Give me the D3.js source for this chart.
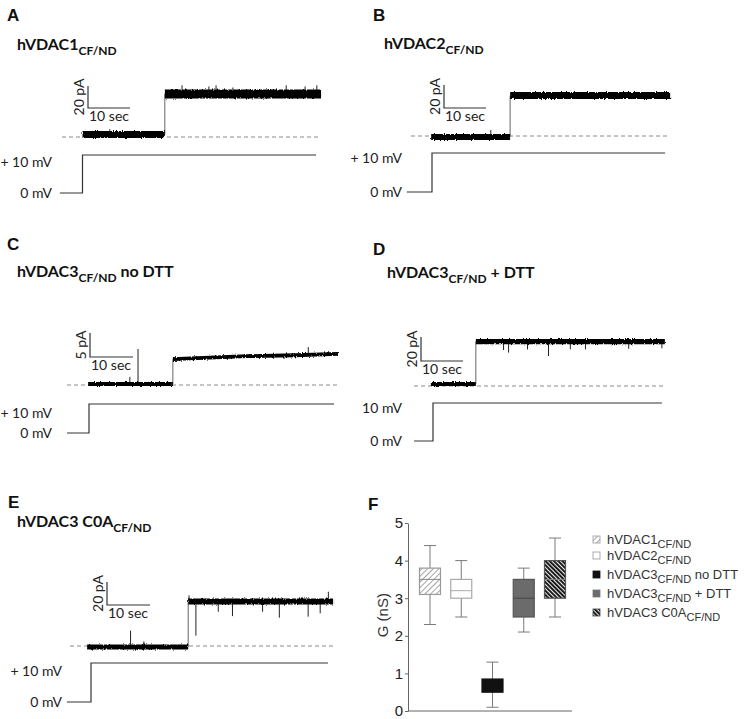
<!DOCTYPE html>
<html>
<head>
<meta charset="utf-8">
<script src="https://cdn.jsdelivr.net/npm/d3@7"></script>
<style>
body { margin: 0; background: #fff; }
svg text { font-family: Lato, "Open Sans", sans-serif; }
.arial { font-family: "Liberation Sans", Arial, sans-serif !important; }
</style>
</head>
<body>
<svg id="fig" width="744" height="719"></svg>
<script>
// ---------- data ----------
const letters = ['A', 'B', 'C', 'D', 'E', 'F'];
const titles = ['hVDAC1', 'hVDAC2', 'hVDAC3', 'hVDAC3', 'hVDAC3 C0A'];
const titleTails = ['', '', ' no DTT', ' + DTT', ''];
const barCurrent = [20, 20, 5, 20, 20]; // pA
const barTime = 10; // sec
const highLabels = ['+ 10 mV', '+ 10 mV', '+ 10 mV', '10 mV', '+ 10 mV'];

// current levels [t sec, pA]
const closedA = [[0, 2.3], [19.6, 2.3]];
const openA = [[19.6, 39], [56.8, 39]];
const closedB = [[-0.2, -0.9], [18.6, -0.9]];
const openB = [[18.6, 35.2], [56.7, 35.2]];
const closedC = [[-0.2, 0.2], [19.5, 0.2]];
const openC = [[19.5, 5.4], [28, 5.7], [36.7, 6.0], [48, 6.2], [57.9, 6.5]];
const closedD = [[-0.5, 1.7], [10.2, 1.7]];
const openD = [[10.2, 37], [55.2, 37]];
const closedE = [[-0.9, -0.9], [22.6, -0.9]];
const openE = [[22.6, 38.7], [56.3, 38.7]];

// band thickness (pA)
const noiseClosed = [6.4, 5.2, 0.8, 3.3, 4.3];
const noiseOpen = [8.2, 6, 0.8, 4.5, 5.2];

// spikes [t sec, from pA, to pA]
const spikesA = [[6.5, 2.3, 7], [23.7, 39, 47], [30.1, 39, 46], [31.8, 39, 47], [35.8, 39, 45], [48.5, 39, 47], [53, 39, 46], [55.8, 39, 47]];
const spikesB = [[14, -0.9, 5.2]];
const spikesC = [[9.5, 0.2, 1.7], [11.4, 0.2, 7.5], [51, 6.2, 7.9]];
const spikesD = [[16.8, 37, 30], [18, 37, 27.8], [22.5, 37, 30.5], [27.5, 37, 25], [32.7, 37, 30.5], [36.3, 37, 30.5], [46.6, 37, 31], [54.5, 37, 31.4]];
const spikesE = [[9.2, -0.9, 13.3], [12.3, -0.9, 4], [22.8, 38.7, 44], [24.4, 38.7, 9], [29.6, 38.7, 29.8], [32.9, 38.7, 26], [39.9, 38.7, 29.8], [43.8, 38.7, 24.6], [50.5, 38.7, 25.5], [53.3, 38.7, 28.4], [55.2, 38.7, 47.2]];

// voltage protocol [t sec, mV]
const protoA = [[-5.4, 0], [0, 0], [0, 10], [55.6, 10]];
const protoB = [[-6, 0], [0, 0], [0, 10], [55.5, 10]];
const protoC = [[-5.1, 0], [0, 0], [0, 10], [57, 10]];
const protoD = [[-4.5, 0], [0, 0], [0, 10], [54.5, 10]];
const protoE = [[-5.6, 0], [0, 0], [0, 10], [55.1, 10]];

// panel F box plot (G, nS)
const groups = ['hVDAC1', 'hVDAC2', 'hVDAC3 no DTT', 'hVDAC3 + DTT', 'hVDAC3 C0A'];
const whiskerLow = [2.3, 2.5, 0.1, 2.1, 2.5];
const q1 = [3.1, 3.0, 0.5, 2.5, 3.0];
const medians = [3.5, 3.2, 0.65, 3.0, 3.5];
const q3 = [3.8, 3.5, 0.85, 3.5, 4.0];
const whiskerHigh = [4.4, 4.0, 1.3, 3.8, 4.6];
const yTicks = [0, 1, 2, 3, 4, 5];
const legendMain = ['hVDAC1', 'hVDAC2', 'hVDAC3', 'hVDAC3', 'hVDAC3 C0A'];
const legendTail = ['', '', ' no DTT', ' + DTT', ''];

// ---------- layout ----------
const traces = [
    { closed: closedA, open: openA, spikes: spikesA, proto: protoA },
    { closed: closedB, open: openB, spikes: spikesB, proto: protoB },
    { closed: closedC, open: openC, spikes: spikesC, proto: protoC },
    { closed: closedD, open: openD, spikes: spikesD, proto: protoD },
    { closed: closedE, open: openE, spikes: spikesE, proto: protoE }
];

const layout = [
    { x0: 82.5, pxs: 4.2, y0: 137, barH: 22, barX: 88, barY: 108, dash: [62, 320], vY0: 193, vY1: 155, labR: 52, lab10: 167, lab0: 198, letter: [7, 21], title: [17, 50] },
    { x0: 432, pxs: 4.2, y0: 136, barH: 23, barX: 444, barY: 108, dash: [411, 669], vY0: 192, vY1: 153, labR: 402, lab10: 163, lab0: 197, letter: [373, 21], title: [384, 49] },
    { x0: 89, pxs: 4.3, y0: 385, barH: 24, barX: 90, barY: 357, dash: [67, 338], vY0: 433, vY1: 404, labR: 52, lab10: 418, lab0: 438, letter: [7, 250], title: [17, 277] },
    { x0: 433, pxs: 4.2, y0: 386, barH: 24, barX: 421, barY: 361, dash: [414, 664], vY0: 441, vY1: 403, labR: 402, lab10: 413, lab0: 446, letter: [373, 255], title: [387, 278] },
    { x0: 91, pxs: 4.3, y0: 646, barH: 23, barX: 107, barY: 605, dash: [70, 333], vY0: 702, vY1: 663, labR: 62, lab10: 676, lab0: 707, letter: [8, 508], title: [17, 527] }
];

const svg = d3.select('#fig');
const defs = svg.append('defs');

// rough edges for the noisy current bands
const rough = defs.append('filter')
    .attr('id', 'rough')
    .attr('filterUnits', 'userSpaceOnUse')
    .attr('x', 0).attr('y', 0).attr('width', 744).attr('height', 719);
rough.append('feTurbulence')
    .attr('type', 'fractalNoise')
    .attr('baseFrequency', '0.9 0.35')
    .attr('numOctaves', 2)
    .attr('seed', 4)
    .attr('result', 'n');
rough.append('feDisplacementMap')
    .attr('in', 'SourceGraphic')
    .attr('in2', 'n')
    .attr('scale', 3)
    .attr('xChannelSelector', 'R')
    .attr('yChannelSelector', 'G');

// hatch patterns for panel F
let pLight = defs.append('pattern')
    .attr('id', 'hatchLight')
    .attr('patternUnits', 'userSpaceOnUse')
    .attr('width', 4).attr('height', 4)
    .attr('patternTransform', 'rotate(45)');
pLight.append('rect').attr('width', 4).attr('height', 4).attr('fill', '#fff');
pLight.append('line').attr('x1', 0.5).attr('y1', 0).attr('x2', 0.5).attr('y2', 4)
    .attr('stroke', '#a5a5a5').attr('stroke-width', 1);

let pDark = defs.append('pattern')
    .attr('id', 'hatchDark')
    .attr('patternUnits', 'userSpaceOnUse')
    .attr('width', 3).attr('height', 3)
    .attr('patternTransform', 'rotate(-45)');
pDark.append('rect').attr('width', 3).attr('height', 3).attr('fill', '#eee');
pDark.append('rect').attr('width', 1.9).attr('height', 3).attr('fill', '#111');

// ---------- panel letters ----------
svg.append('g').selectAll('text')
    .data(letters)
    .enter().append('text')
    .attr('class', 'arial')
    .attr('x', (d, i) => i < 5 ? layout[i].letter[0] : 368)
    .attr('y', (d, i) => i < 5 ? layout[i].letter[1] : 510)
    .attr('font-size', 17)
    .attr('font-weight', 'bold')
    .attr('fill', '#111')
    .text(d => d);

// ---------- trace panels ----------
traces.forEach(function(tr, i) {
    let L = layout[i];
    let g = svg.append('g');

    let t = d3.scaleLinear().domain([0, barTime]).range([L.x0, L.x0 + L.pxs * barTime]);
    let I = d3.scaleLinear().domain([0, barCurrent[i]]).range([L.y0, L.y0 - L.barH]);
    let V = d3.scaleLinear().domain([0, 10]).range([L.vY0, L.vY1]);
    let pxPerPA = L.barH / barCurrent[i];

    // title with subscript
    let title = g.append('text')
        .attr('x', L.title[0]).attr('y', L.title[1])
        .attr('font-weight', 'bold')
        .attr('fill', '#111');
    title.append('tspan').attr('font-size', 16).text(titles[i]);
    title.append('tspan').attr('font-size', 12).attr('dy', 5).text('CF/ND');
    if (titleTails[i]) {
        title.append('tspan').attr('font-size', 16).attr('dy', -5).text(titleTails[i]);
    }

    // zero current reference
    g.append('line')
        .attr('x1', L.dash[0]).attr('x2', L.dash[1])
        .attr('y1', I(0)).attr('y2', I(0))
        .attr('stroke', '#8a8a8a')
        .attr('stroke-width', 1)
        .attr('stroke-dasharray', '4,3');

    // scale bar
    let barLen = t(barTime) - t(0);
    g.append('path')
        .attr('d', 'M' + L.barX + ',' + (L.barY - L.barH) + 'V' + L.barY + 'H' + (L.barX + barLen))
        .attr('fill', 'none')
        .attr('stroke', '#333')
        .attr('stroke-width', 1.2);
    g.append('text')
        .attr('transform', 'translate(' + (L.barX - 4) + ',' + (L.barY - L.barH / 2) + ') rotate(-90)')
        .attr('text-anchor', 'middle')
        .attr('font-size', 14)
        .attr('fill', '#222')
        .text(barCurrent[i] + ' pA');
    g.append('text')
        .attr('x', L.barX + 1).attr('y', L.barY + 13)
        .attr('font-size', 14)
        .attr('fill', '#222')
        .text(barTime + ' sec');

    // step between levels
    let tStep = tr.open[0][0];
    g.append('line')
        .attr('x1', t(tStep)).attr('x2', t(tStep))
        .attr('y1', I(tr.closed[tr.closed.length - 1][1]))
        .attr('y2', I(tr.open[0][1]))
        .attr('stroke', '#666')
        .attr('stroke-width', 1);

    // spikes
    g.append('g').selectAll('line')
        .data(tr.spikes)
        .enter().append('line')
        .attr('x1', d => t(d[0])).attr('x2', d => t(d[0]))
        .attr('y1', d => I(d[1])).attr('y2', d => I(d[2]))
        .attr('stroke', '#222')
        .attr('stroke-width', 1);

    // noisy current bands
    let line = d3.line().x(d => t(d[0])).y(d => I(d[1]));
    let bands = g.append('g').attr('filter', 'url(#rough)');
    bands.append('path')
        .attr('d', line(tr.closed))
        .attr('fill', 'none')
        .attr('stroke', '#000')
        .attr('stroke-width', noiseClosed[i] * pxPerPA);
    bands.append('path')
        .attr('d', line(tr.open))
        .attr('fill', 'none')
        .attr('stroke', '#000')
        .attr('stroke-width', noiseOpen[i] * pxPerPA);

    // voltage protocol
    let vLine = d3.line().x(d => t(d[0])).y(d => V(d[1]));
    g.append('path')
        .attr('d', vLine(tr.proto))
        .attr('fill', 'none')
        .attr('stroke', '#333')
        .attr('stroke-width', 1.2);
    g.append('text')
        .attr('x', L.labR).attr('y', L.lab10)
        .attr('text-anchor', 'end')
        .attr('font-size', 14)
        .attr('fill', '#222')
        .text(highLabels[i]);
    g.append('text')
        .attr('x', L.labR).attr('y', L.lab0)
        .attr('text-anchor', 'end')
        .attr('font-size', 14)
        .attr('fill', '#222')
        .text('0 mV');
});

// ---------- panel F ----------
let fg = svg.append('g');
let y = d3.scaleLinear().domain([0, 5]).range([711, 523]);
let x = d3.scalePoint().domain(groups).range([430, 555]);
let boxW = 21, capW = 12;

let boxFill = ['url(#hatchLight)', '#fff', '#111', '#6b6b6b', 'url(#hatchDark)'];
let boxStroke = ['#9a9a9a', '#aaa', '#111', '#555', '#555'];
let medStroke = ['#888', '#aaa', '#111', '#444', '#888'];

let yAxis = fg.append('g')
    .attr('transform', 'translate(408,0)')
    .call(d3.axisLeft(y).tickValues(yTicks).tickFormat(d3.format('d'))
        .tickSize(3).tickSizeOuter(0).tickPadding(2));
yAxis.select('.domain').attr('stroke', '#666');
yAxis.selectAll('.tick line').attr('stroke', '#666');
yAxis.selectAll('.tick text')
    .attr('class', 'arial')
    .attr('font-size', 15)
    .attr('fill', '#222');

fg.append('line')
    .attr('x1', 408).attr('x2', 572)
    .attr('y1', y(0)).attr('y2', y(0))
    .attr('stroke', '#666');

fg.append('text')
    .attr('class', 'arial')
    .attr('transform', 'translate(388,' + y(2.55) + ') rotate(-90)')
    .attr('text-anchor', 'middle')
    .attr('font-size', 15)
    .attr('fill', '#333')
    .text('G (nS)');

let box = fg.append('g').selectAll('g')
    .data(groups)
    .enter().append('g');

box.append('line')
    .attr('x1', d => x(d)).attr('x2', d => x(d))
    .attr('y1', (d, i) => y(whiskerLow[i])).attr('y2', (d, i) => y(whiskerHigh[i]))
    .attr('stroke', '#7a7a7a');
box.append('line')
    .attr('x1', d => x(d) - capW / 2).attr('x2', d => x(d) + capW / 2)
    .attr('y1', (d, i) => y(whiskerLow[i])).attr('y2', (d, i) => y(whiskerLow[i]))
    .attr('stroke', '#7a7a7a');
box.append('line')
    .attr('x1', d => x(d) - capW / 2).attr('x2', d => x(d) + capW / 2)
    .attr('y1', (d, i) => y(whiskerHigh[i])).attr('y2', (d, i) => y(whiskerHigh[i]))
    .attr('stroke', '#7a7a7a');
box.append('rect')
    .attr('x', d => x(d) - boxW / 2)
    .attr('width', boxW)
    .attr('y', (d, i) => y(q3[i]))
    .attr('height', (d, i) => y(q1[i]) - y(q3[i]))
    .attr('fill', (d, i) => boxFill[i])
    .attr('stroke', (d, i) => boxStroke[i])
    .attr('stroke-width', 1.2);
box.append('line')
    .attr('x1', d => x(d) - boxW / 2).attr('x2', d => x(d) + boxW / 2)
    .attr('y1', (d, i) => y(medians[i])).attr('y2', (d, i) => y(medians[i]))
    .attr('stroke', (d, i) => medStroke[i]);

// legend
let leg = fg.append('g').selectAll('g')
    .data(legendMain)
    .enter().append('g')
    .attr('transform', (d, i) => 'translate(593,' + [540, 556, 575, 594, 613][i] + ')');
leg.append('rect')
    .attr('x', 0).attr('y', -4)
    .attr('width', 7).attr('height', 7)
    .attr('fill', (d, i) => boxFill[i])
    .attr('stroke', (d, i) => ['#999', '#999', '#111', '#777', '#444'][i])
    .attr('stroke-width', 0.8);
let legText = leg.append('text')
    .attr('class', 'arial')
    .attr('x', 14).attr('y', 4)
    .attr('font-size', 13)
    .attr('fill', '#333');
legText.append('tspan').text(d => d);
legText.append('tspan').attr('font-size', 11).attr('dy', 4).text('CF/ND');
legText.append('tspan').attr('dy', -4).text((d, i) => legendTail[i]);
</script>
</body>
</html>
